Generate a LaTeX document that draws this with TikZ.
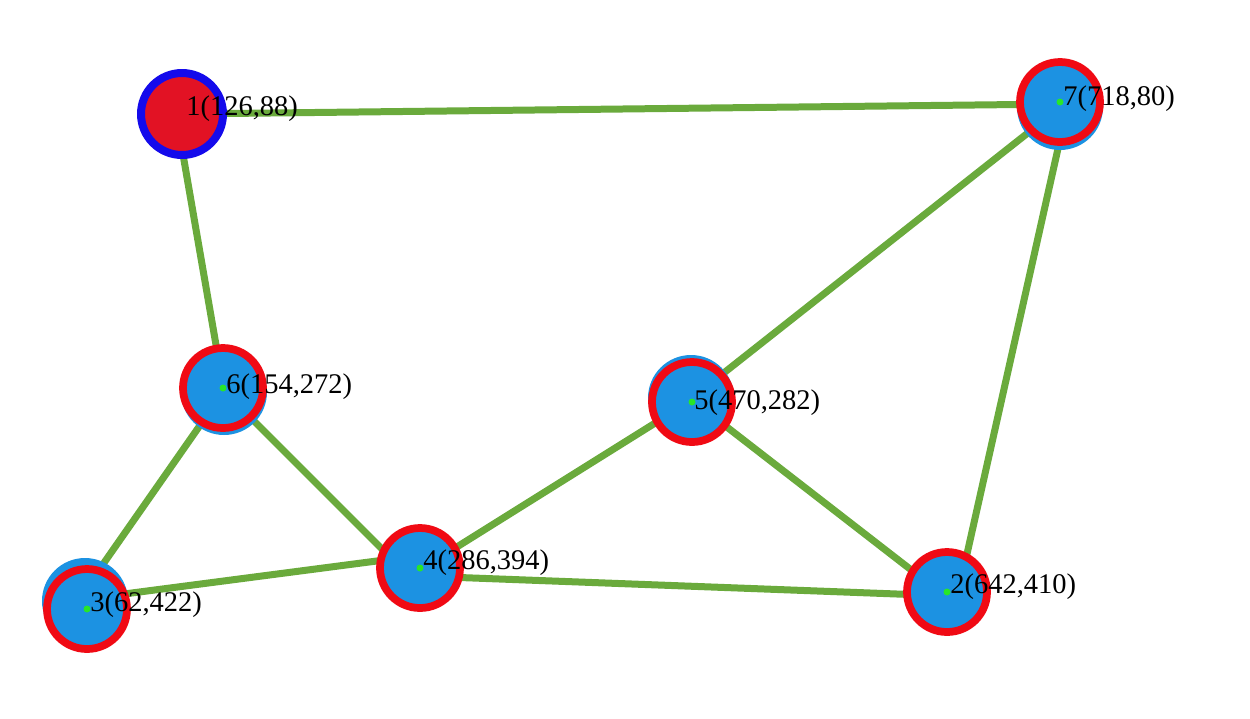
\documentclass[tikz,border=0pt]{standalone}
\usepackage{fontspec}
\setmainfont{Liberation Serif}
\begin{document}
\definecolor{edgegreen}{RGB}{106,170,60}
\definecolor{ringred}{RGB}{240,10,20}
\definecolor{fillred}{RGB}{226,18,36}
\definecolor{ringblue}{RGB}{20,10,235}
\definecolor{discblue}{RGB}{28,146,226}
\definecolor{dotgreen}{RGB}{40,230,40}
\begin{tikzpicture}[x=0.02cm,y=-0.02cm,
  edge/.style={draw=edgegreen,line width=0.14cm},
  disc/.style={fill=discblue},
  ring/.style={circle,draw=ringred,line width=0.155cm,minimum size=1.6cm,inner sep=0pt},
  startring/.style={circle,draw=ringblue,fill=fillred,line width=0.16cm,minimum size=1.64cm,inner sep=0pt},
  centerdot/.style={fill=dotgreen},
  lbl/.style={anchor=base west,inner sep=0pt,text=black,font=\fontsize{16.2pt}{18pt}\selectfont}]
  % canvas
  \fill[white] (0,0) rectangle (1250,718);
  \useasboundingbox (0,0) rectangle (1250,718);

  % vertex centres
  \coordinate (c1) at (182,114);
  \coordinate (c2) at (947,592);
  \coordinate (c3) at (87,609);
  \coordinate (c4) at (420,568);
  \coordinate (c5) at (692,402);
  \coordinate (c6) at (223,388);
  \coordinate (c7) at (1060,102);

  % edges
  \draw[edge] (c1) -- ([shift={(2,2)}]c7);
  \draw[edge] ([shift={(-6,0)}]c1) -- ([shift={(1,3)}]c6);
  \draw[edge] ([shift={(1,3)}]c6) -- ([shift={(-9,-9)}]c3);
  \draw[edge] ([shift={(1,3)}]c6) -- ([shift={(-28,-9)}]c4);
  \draw[edge] ([shift={(-9,-9)}]c3) -- ([shift={(-28,-9)}]c4);
  \draw[edge] ([shift={(0,2)}]c4) -- ([shift={(0,-2)}]c5);
  \draw[edge] ([shift={(0,8)}]c4) -- ([shift={(3,4)}]c2);
  \draw[edge] ([shift={(0,-2)}]c5) -- ([shift={(3,8)}]c2);
  \draw[edge] ([shift={(0,-4)}]c5) -- ([shift={(2,4)}]c7);
  \draw[edge] ([shift={(8,2)}]c7) -- ([shift={(11,2)}]c2);

  % blue discs: one under each ring, some slightly displaced
  \foreach \c in {c2,c3,c4,c5,c6,c7}
    \fill[disc] (\c) circle (0.8cm);
  \fill[disc] ([shift={(-2,-8)}]c3) circle (0.86cm);
  \fill[disc] ([shift={(-1,-4)}]c5) circle (0.86cm);
  \fill[disc] ([shift={(1,4)}]c6) circle (0.86cm);
  \fill[disc] ([shift={(0,5)}]c7) circle (0.86cm);

  % rings
  \node[startring] (n1) at (c1) {};
  \node[ring] (n2) at (c2) {};
  \node[ring] (n3) at (c3) {};
  \node[ring] (n4) at (c4) {};
  \node[ring] (n5) at (c5) {};
  \node[ring] (n6) at (c6) {};
  \node[ring] (n7) at (c7) {};

  % centre dots
  \foreach \c in {c2,c3,c4,c5,c6,c7}
    \fill[centerdot] (\c) circle (0.07cm);

  % labels
  \node[lbl] (t1) at ([shift={(4,1)}]c1) {1(126,88)};
  \node[lbl] (t2) at ([shift={(3,1)}]c2) {2(642,410)};
  \node[lbl] (t3) at ([shift={(3,2)}]c3) {3(62,422)};
  \node[lbl] (t4) at ([shift={(3,1)}]c4) {4(286,394)};
  \node[lbl] (t5) at ([shift={(2,7)}]c5) {5(470,282)};
  \node[lbl] (t6) at ([shift={(3,5)}]c6) {6(154,272)};
  \node[lbl] (t7) at ([shift={(3,3)}]c7) {7(718,80)};
\end{tikzpicture}
\end{document}
